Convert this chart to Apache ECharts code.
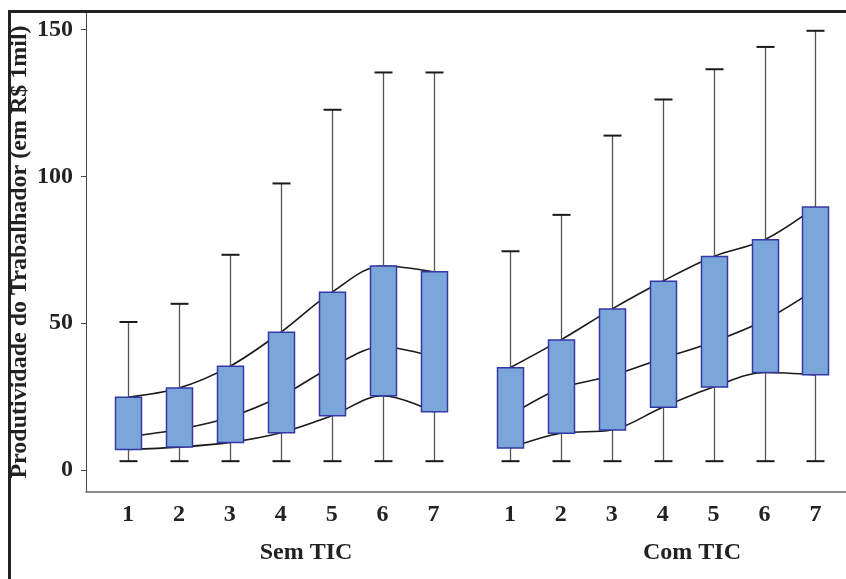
<!DOCTYPE html>
<html>
<head>
<meta charset="utf-8">
<script src="https://cdn.jsdelivr.net/npm/echarts@6/dist/echarts.min.js"></script>
<style>
  html, body { margin: 0; padding: 0; background: #fff; }
  #chart { width: 846px; height: 579px; }
</style>
</head>
<body>
<div id="chart"></div>
<script>
// Category labels within each group
const categories = ['1', '2', '3', '4', '5', '6', '7'];
const groupNames = ['Sem TIC', 'Com TIC'];
// Positions along the x axis: second group is offset to leave a gap
const semPos = [1, 2, 3, 4, 5, 6, 7];
const comPos = [8.5, 9.5, 10.5, 11.5, 12.5, 13.5, 14.5];

// Sem TIC: whisker ends, quartiles and median
const semMin = [3, 3, 3, 3, 3, 3, 3];
const semQ1  = [7, 7.8, 9.4, 12.7, 18.5, 25.3, 19.8];
const semMed = [11.3, 13.9, 18, 25.1, 35.1, 42, 38.5];
const semQ3  = [24.8, 27.9, 35.3, 46.9, 60.5, 69.5, 67.5];
const semMax = [50.4, 56.6, 73.3, 97.6, 122.7, 135.4, 135.4];

// Com TIC
const comMin = [3, 3, 3, 3, 3, 3, 3];
const comQ1  = [7.5, 12.5, 13.6, 21.4, 28.3, 33.2, 32.4];
const comMed = [18.5, 27.8, 32.1, 38, 43.7, 51, 61.5];
const comQ3  = [34.8, 44.3, 54.8, 64.3, 72.7, 78.4, 89.6];
const comMax = [74.5, 86.9, 113.9, 126.2, 136.5, 144.1, 149.6];

// Y axis tick values
const yTicks = [0, 50, 100, 150];

const FONT = '"Liberation Serif", "Times New Roman", serif';

function boxRows(pos, mn, q1, md, q3, mx) {
  return pos.map((p, i) => [p, mn[i], q1[i], md[i], q3[i], mx[i]]);
}
function pairs(pos, vals) {
  return pos.map((p, i) => [p, vals[i]]);
}
const boxData = boxRows(semPos, semMin, semQ1, semMed, semQ3, semMax)
  .concat(boxRows(comPos, comMin, comQ1, comMed, comQ3, comMax));

const labelPos = semPos.concat(comPos);
const labelText = {};
semPos.forEach((p, i) => { labelText[p] = categories[i]; });
comPos.forEach((p, i) => { labelText[p] = categories[i]; });

const BOX_W = 26, CAP_W = 18;

function renderBox(params, api) {
  const x = api.value(0);
  const pMin = api.coord([x, api.value(1)]);
  const pQ1 = api.coord([x, api.value(2)]);
  const pQ3 = api.coord([x, api.value(4)]);
  const pMax = api.coord([x, api.value(5)]);
  const cx = Math.round(pMin[0]) + 0.5;
  return {
    type: 'group',
    children: [
      { type: 'line', shape: { x1: cx, y1: pMin[1], x2: cx, y2: pMax[1] },
        style: { stroke: '#555', lineWidth: 1.3 } },
      { type: 'line', shape: { x1: cx - CAP_W / 2, y1: pMin[1], x2: cx + CAP_W / 2, y2: pMin[1] },
        style: { stroke: '#1a1a1a', lineWidth: 2 } },
      { type: 'line', shape: { x1: cx - CAP_W / 2, y1: pMax[1], x2: cx + CAP_W / 2, y2: pMax[1] },
        style: { stroke: '#1a1a1a', lineWidth: 2 } },
      { type: 'rect', shape: { x: cx - BOX_W / 2, y: pQ3[1], width: BOX_W, height: pQ1[1] - pQ3[1] },
        style: { fill: '#7ba6d9', stroke: '#3438a6', lineWidth: 1.5 } }
    ]
  };
}

function curve(data) {
  return {
    type: 'line', data: data, smooth: 0.35, symbol: 'none', z: 1,
    lineStyle: { color: '#1a1a1a', width: 1.6 }, silent: true
  };
}

const chart = echarts.init(document.getElementById('chart'), null, { renderer: 'canvas' });
chart.setOption({
  animation: false,
  backgroundColor: '#fff',
  grid: { left: 86, right: 0, top: 12, bottom: 87, outerBoundsMode: 'none', containLabel: false },
  xAxis: {
    type: 'value', min: 0.175, max: 15.1,
    splitLine: { show: false },
    axisLine: { show: true, onZero: false, lineStyle: { color: '#666', width: 1.5 } },
    axisTick: { show: false },
    axisLabel: {
      customValues: labelPos,
      formatter: v => labelText[v] || '',
      fontFamily: FONT, fontWeight: 'bold', fontSize: 24, color: '#222', margin: 11
    }
  },
  yAxis: {
    type: 'value', min: -7.5, max: 156,
    name: 'Produtividade do Trabalhador (em R$ 1mil)',
    nameLocation: 'middle', nameGap: 54, nameMoveOverlap: false,
    nameTextStyle: { fontFamily: FONT, fontWeight: 'bold', fontSize: 24, color: '#222' },
    splitLine: { show: false },
    axisLine: { show: true, onZero: false, lineStyle: { color: '#444', width: 1 } },
    axisTick: { show: true, customValues: yTicks, length: 5, lineStyle: { color: '#444' } },
    axisLabel: {
      customValues: yTicks,
      fontFamily: FONT, fontWeight: 'bold', fontSize: 24, color: '#222', margin: 13
    }
  },
  series: [
    curve(pairs(semPos, semQ1)),
    curve(pairs(semPos, semMed)),
    curve(pairs(semPos, semQ3)),
    curve(pairs(comPos, comQ1)),
    curve(pairs(comPos, comMed)),
    curve(pairs(comPos, comQ3)),
    { type: 'custom', renderItem: renderBox, data: boxData, z: 3,
      encode: { x: 0, y: [1, 2, 3, 4, 5] }, silent: true }
  ],
  graphic: [
    { type: 'text', x: 306, y: 553, style: { text: groupNames[0], fontFamily: FONT,
      fontWeight: 'bold', fontSize: 24, fill: '#222', align: 'center', verticalAlign: 'middle' } },
    { type: 'text', x: 692, y: 553, style: { text: groupNames[1], fontFamily: FONT,
      fontWeight: 'bold', fontSize: 24, fill: '#222', align: 'center', verticalAlign: 'middle' } },
    { type: 'rect', shape: { x: 8, y: 10, width: 838, height: 3 }, style: { fill: '#222' }, z: 10 },
    { type: 'rect', shape: { x: 8, y: 10, width: 3, height: 569 }, style: { fill: '#222' }, z: 10 }
  ]
});
</script>
</body>
</html>
